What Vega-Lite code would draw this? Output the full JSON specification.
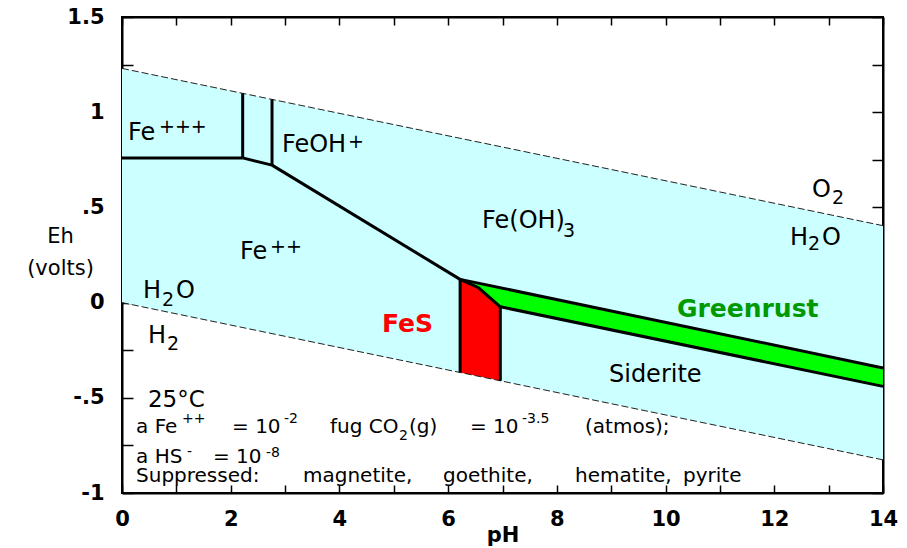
{
  "$schema": "https://vega.github.io/schema/vega-lite/v6.json",
  "width": 761,
  "height": 476,
  "autosize": {"type": "none"},
  "padding": {"left": 122, "top": 17, "right": 24, "bottom": 55},
  "background": "white",
  "config": {
    "view": {"stroke": "black", "strokeWidth": 2},
    "font": "DejaVu Sans",
    "text": {"font": "DejaVu Sans", "align": "left", "baseline": "alphabetic", "color": "black"}
  },
  "datasets": {
    "water": [
      {"ph": 0, "up": 1.23, "lo": 0},
      {"ph": 14, "up": 0.404, "lo": -0.826}
    ],
    "waterlines": [
      {"seg": "o2", "k": 0, "ph": 0, "eh": 1.23},
      {"seg": "o2", "k": 1, "ph": 14, "eh": 0.404},
      {"seg": "h2", "k": 0, "ph": 0, "eh": 0},
      {"seg": "h2", "k": 1, "ph": 14, "eh": -0.826}
    ],
    "fes": [
      {"ph": 6.22, "top": 0.122, "bot": -0.367},
      {"ph": 6.56, "top": 0.078, "bot": -0.387},
      {"ph": 6.96, "top": -0.022, "bot": -0.411}
    ],
    "green": [
      {"ph": 6.22, "top": 0.122, "bot": 0.122},
      {"ph": 6.56, "top": 0.102, "bot": 0.078},
      {"ph": 6.96, "top": 0.078, "bot": -0.022},
      {"ph": 14, "top": -0.343, "bot": -0.44}
    ],
    "bounds": [
      {"seg": "a", "k": 0, "ph": 0, "eh": 0.76},
      {"seg": "a", "k": 1, "ph": 2.22, "eh": 0.76},
      {"seg": "b", "k": 0, "ph": 2.22, "eh": 0.76},
      {"seg": "b", "k": 1, "ph": 2.22, "eh": 1.099},
      {"seg": "c", "k": 0, "ph": 2.22, "eh": 0.76},
      {"seg": "c", "k": 1, "ph": 2.76, "eh": 0.722},
      {"seg": "d", "k": 0, "ph": 2.76, "eh": 0.722},
      {"seg": "d", "k": 1, "ph": 2.76, "eh": 1.067},
      {"seg": "e", "k": 0, "ph": 2.76, "eh": 0.722},
      {"seg": "e", "k": 1, "ph": 6.22, "eh": 0.122},
      {"seg": "f", "k": 0, "ph": 6.22, "eh": 0.122},
      {"seg": "f", "k": 1, "ph": 14, "eh": -0.343},
      {"seg": "g", "k": 0, "ph": 6.22, "eh": 0.122},
      {"seg": "g", "k": 1, "ph": 6.22, "eh": -0.367},
      {"seg": "h", "k": 0, "ph": 6.22, "eh": 0.122},
      {"seg": "h", "k": 1, "ph": 6.56, "eh": 0.078},
      {"seg": "h", "k": 2, "ph": 6.96, "eh": -0.022},
      {"seg": "i", "k": 0, "ph": 6.96, "eh": -0.022},
      {"seg": "i", "k": 1, "ph": 6.96, "eh": -0.411},
      {"seg": "j", "k": 0, "ph": 6.96, "eh": -0.022},
      {"seg": "j", "k": 1, "ph": 14, "eh": -0.44}
    ],
    "labels": [
      {"kind": "main", "ph": 0.110, "eh": 0.854, "text": "Fe"},
      {"kind": "sup", "ph": 0.680, "eh": 0.891, "text": "+++"},
      {"kind": "main", "ph": 2.943, "eh": 0.793, "text": "FeOH"},
      {"kind": "sup", "ph": 4.158, "eh": 0.812, "text": "+"},
      {"kind": "main", "ph": 6.623, "eh": 0.392, "text": "Fe(OH)"},
      {"kind": "sub", "ph": 8.113, "eh": 0.345, "text": "3"},
      {"kind": "main", "ph": 2.171, "eh": 0.229, "text": "Fe"},
      {"kind": "sup", "ph": 2.723, "eh": 0.26, "text": "++"},
      {"kind": "main", "ph": 12.694, "eh": 0.555, "text": "O"},
      {"kind": "sub", "ph": 13.062, "eh": 0.518, "text": "2"},
      {"kind": "main", "ph": 12.289, "eh": 0.302, "text": "H"},
      {"kind": "sub", "ph": 12.620, "eh": 0.276, "text": "2"},
      {"kind": "main", "ph": 12.878, "eh": 0.302, "text": "O"},
      {"kind": "main", "ph": 0.386, "eh": 0.024, "text": "H"},
      {"kind": "sub", "ph": 0.736, "eh": -0.018, "text": "2"},
      {"kind": "main", "ph": 0.993, "eh": 0.024, "text": "O"},
      {"kind": "main", "ph": 0.478, "eh": -0.212, "text": "H"},
      {"kind": "sub", "ph": 0.828, "eh": -0.249, "text": "2"},
      {"kind": "main", "ph": 8.959, "eh": -0.417, "text": "Siderite"},
      {"kind": "fes", "ph": 4.783, "eh": -0.154, "text": "FeS"},
      {"kind": "green", "ph": 10.21, "eh": -0.076, "text": "Greenrust"},
      {"kind": "temp", "ph": 0.478, "eh": -0.548, "text": "25°C"},
      {"kind": "note", "ph": 0.258, "eh": -0.685, "text": "a Fe"},
      {"kind": "nsup", "ph": 1.104, "eh": -0.632, "text": "++"},
      {"kind": "note", "ph": 2.024, "eh": -0.685, "text": "= 10"},
      {"kind": "nsup", "ph": 2.980, "eh": -0.632, "text": "-2"},
      {"kind": "note", "ph": 3.827, "eh": -0.685, "text": "fug CO"},
      {"kind": "nsub", "ph": 5.096, "eh": -0.722, "text": "2"},
      {"kind": "note", "ph": 5.280, "eh": -0.685, "text": "(g)"},
      {"kind": "note", "ph": 6.402, "eh": -0.685, "text": "= 10"},
      {"kind": "nsup", "ph": 7.360, "eh": -0.632, "text": "-3.5"},
      {"kind": "note", "ph": 8.518, "eh": -0.685, "text": "(atmos);"},
      {"kind": "note", "ph": 0.258, "eh": -0.842, "text": "a HS"},
      {"kind": "nsup", "ph": 1.196, "eh": -0.806, "text": "-"},
      {"kind": "note", "ph": 1.674, "eh": -0.842, "text": "= 10"},
      {"kind": "nsup", "ph": 2.649, "eh": -0.811, "text": "-8"},
      {"kind": "note", "ph": 0.258, "eh": -0.942, "text": "Suppressed:"},
      {"kind": "note", "ph": 3.330, "eh": -0.942, "text": "magnetite,"},
      {"kind": "note", "ph": 5.905, "eh": -0.942, "text": "goethite,"},
      {"kind": "note", "ph": 8.334, "eh": -0.942, "text": "hematite,"},
      {"kind": "note", "ph": 10.321, "eh": -0.942, "text": "pyrite"}
    ]
  },
  "resolve": {"axis": {"x": "independent", "y": "independent"}},
  "layer": [
    {
      "data": {"name": "water"},
      "mark": {"type": "area", "color": "#ccffff", "opacity": 1},
      "encoding": {
        "x": {
          "field": "ph", "type": "quantitative",
          "scale": {"domain": [0, 14], "nice": false, "zero": false},
          "axis": {
            "orient": "bottom",
            "values": [0,1,2,3,4,5,6,7,8,9,10,11,12,13,14],
            "labelExpr": "datum.value % 2 === 0 ? datum.label : ''",
            "labelFlush": false,
            "labelOverlap": false,
            "grid": false,
            "domainColor": "black", "domainWidth": 2,
            "tickColor": "black", "tickWidth": 1.5, "tickSize": -8,
            "labelPadding": 23,
            "labelFont": "DejaVu Sans", "labelFontSize": 21, "labelFontWeight": "bold", "labelColor": "black",
            "title": "pH",
            "titleFont": "DejaVu Sans", "titleFontSize": 21, "titleFontWeight": "bold", "titleColor": "black",
            "titleBaseline": "alphabetic",
            "titleY": 48
          }
        },
        "y": {
          "field": "up", "type": "quantitative",
          "scale": {"domain": [-1, 1.5], "nice": false, "zero": false},
          "axis": {
            "orient": "left",
            "values": [-1,-0.75,-0.5,-0.25,0,0.25,0.5,0.75,1,1.25,1.5],
            "labelExpr": "datum.value == 1.5 ? '1.5' : datum.value == 1 ? '1' : datum.value == 0.5 ? '.5' : datum.value == 0 ? '0' : datum.value == -0.5 ? '-.5' : datum.value == -1 ? '-1' : ''",
            "labelFlush": false,
            "labelOverlap": false,
            "grid": false,
            "domainColor": "black", "domainWidth": 2,
            "tickColor": "black", "tickWidth": 1.5, "tickSize": -11,
            "labelPadding": 29,
            "labelFont": "DejaVu Sans", "labelFontSize": 21, "labelFontWeight": "bold", "labelColor": "black",
            "title": ["Eh", "(volts)"],
            "titleAngle": 0,
            "titleAlign": "center",
            "titleBaseline": "top",
            "titleX": -62,
            "titleY": 208,
            "titleLineHeight": 32,
            "titleFont": "DejaVu Sans", "titleFontSize": 21, "titleFontWeight": "normal", "titleColor": "black"
          }
        },
        "y2": {"field": "lo"}
      }
    },
    {
      "data": {"name": "fes"},
      "mark": {"type": "area", "color": "#ff0000", "opacity": 1},
      "encoding": {
        "x": {"field": "ph", "type": "quantitative", "axis": null},
        "y": {"field": "top", "type": "quantitative", "axis": null},
        "y2": {"field": "bot"}
      }
    },
    {
      "data": {"name": "green"},
      "mark": {"type": "area", "color": "#00ff00", "opacity": 1},
      "encoding": {
        "x": {"field": "ph", "type": "quantitative", "axis": null},
        "y": {"field": "top", "type": "quantitative", "axis": null},
        "y2": {"field": "bot"}
      }
    },
    {
      "data": {"name": "waterlines"},
      "mark": {"type": "line", "color": "#222222", "strokeWidth": 1, "strokeDash": [7, 3]},
      "encoding": {
        "x": {
          "field": "ph", "type": "quantitative",
          "axis": {
            "orient": "top", "labels": false, "title": null, "grid": false,
            "values": [0,1,2,3,4,5,6,7,8,9,10,11,12,13,14],
            "domainColor": "black", "domainWidth": 2,
            "tickColor": "black", "tickWidth": 1.5, "tickSize": -8
          }
        },
        "y": {
          "field": "eh", "type": "quantitative",
          "axis": {
            "orient": "right", "labels": false, "title": null, "grid": false,
            "values": [-1,-0.75,-0.5,-0.25,0,0.25,0.5,0.75,1,1.25,1.5],
            "domainColor": "black", "domainWidth": 2,
            "tickColor": "black", "tickWidth": 1.5, "tickSize": -11
          }
        },
        "detail": {"field": "seg"},
        "order": {"field": "k"}
      }
    },
    {
      "data": {"name": "bounds"},
      "mark": {"type": "line", "color": "black", "strokeWidth": 3, "strokeJoin": "miter", "strokeCap": "butt"},
      "encoding": {
        "x": {"field": "ph", "type": "quantitative", "axis": null},
        "y": {"field": "eh", "type": "quantitative", "axis": null},
        "detail": {"field": "seg"},
        "order": {"field": "k"}
      }
    },
    {
      "data": {"name": "labels"},
      "transform": [{"filter": "datum.kind === 'main'"}],
      "mark": {"type": "text", "fontSize": 24},
      "encoding": {
        "x": {"field": "ph", "type": "quantitative", "axis": null},
        "y": {"field": "eh", "type": "quantitative", "axis": null},
        "text": {"field": "text"}
      }
    },
    {
      "data": {"name": "labels"},
      "transform": [{"filter": "datum.kind === 'sup'"}],
      "mark": {"type": "text", "fontSize": 19},
      "encoding": {
        "x": {"field": "ph", "type": "quantitative", "axis": null},
        "y": {"field": "eh", "type": "quantitative", "axis": null},
        "text": {"field": "text"}
      }
    },
    {
      "data": {"name": "labels"},
      "transform": [{"filter": "datum.kind === 'sub'"}],
      "mark": {"type": "text", "fontSize": 19},
      "encoding": {
        "x": {"field": "ph", "type": "quantitative", "axis": null},
        "y": {"field": "eh", "type": "quantitative", "axis": null},
        "text": {"field": "text"}
      }
    },
    {
      "data": {"name": "labels"},
      "transform": [{"filter": "datum.kind === 'fes'"}],
      "mark": {"type": "text", "fontSize": 25, "fontWeight": "bold", "color": "#ff0000"},
      "encoding": {
        "x": {"field": "ph", "type": "quantitative", "axis": null},
        "y": {"field": "eh", "type": "quantitative", "axis": null},
        "text": {"field": "text"}
      }
    },
    {
      "data": {"name": "labels"},
      "transform": [{"filter": "datum.kind === 'green'"}],
      "mark": {"type": "text", "fontSize": 25, "fontWeight": "bold", "color": "#009900"},
      "encoding": {
        "x": {"field": "ph", "type": "quantitative", "axis": null},
        "y": {"field": "eh", "type": "quantitative", "axis": null},
        "text": {"field": "text"}
      }
    },
    {
      "data": {"name": "labels"},
      "transform": [{"filter": "datum.kind === 'temp'"}],
      "mark": {"type": "text", "fontSize": 23},
      "encoding": {
        "x": {"field": "ph", "type": "quantitative", "axis": null},
        "y": {"field": "eh", "type": "quantitative", "axis": null},
        "text": {"field": "text"}
      }
    },
    {
      "data": {"name": "labels"},
      "transform": [{"filter": "datum.kind === 'note'"}],
      "mark": {"type": "text", "fontSize": 20},
      "encoding": {
        "x": {"field": "ph", "type": "quantitative", "axis": null},
        "y": {"field": "eh", "type": "quantitative", "axis": null},
        "text": {"field": "text"}
      }
    },
    {
      "data": {"name": "labels"},
      "transform": [{"filter": "datum.kind === 'nsup' || datum.kind === 'nsub'"}],
      "mark": {"type": "text", "fontSize": 14},
      "encoding": {
        "x": {"field": "ph", "type": "quantitative", "axis": null},
        "y": {"field": "eh", "type": "quantitative", "axis": null},
        "text": {"field": "text"}
      }
    }
  ]
}
